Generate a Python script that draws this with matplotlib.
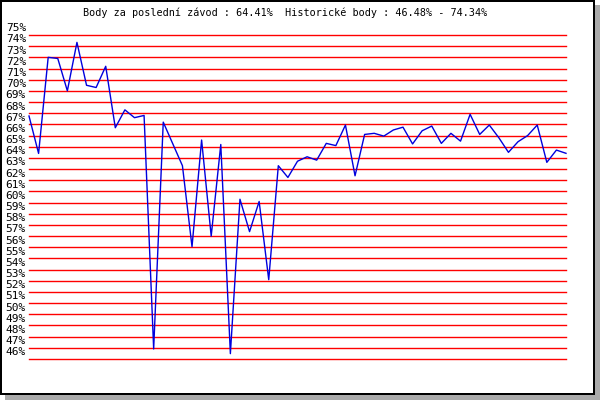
import matplotlib
matplotlib.use("Agg")
import matplotlib.pyplot as plt
from matplotlib.patches import Rectangle
import numpy as np

# Data (percent per race)
values = [67.75, 64.4, 73.0, 72.9, 70.0, 74.34, 70.5, 70.3, 72.2, 66.7,
          68.3, 67.6, 67.8, 46.9, 67.2, 65.25, 63.3, 56.05, 65.6, 57.0,
          65.2, 46.48, 60.3, 57.4, 60.1, 53.1, 63.3, 62.25, 63.7, 64.1,
          63.8, 65.3, 65.1, 66.94, 62.4, 66.1, 66.2, 65.95, 66.5, 66.75,
          65.25, 66.43, 66.85, 65.3, 66.2, 65.5, 67.9, 66.1, 66.94, 65.8,
          64.5, 65.45, 66.0, 66.94, 63.6, 64.7, 64.41]
y_levels = list(range(46, 76))
y_labels = [f"{v}%" for v in y_levels]
title = "Body za poslední závod : 64.41%  Historické body : 46.48% - 74.34%"

W, H = 600, 400
fig = plt.figure(figsize=(W / 100, H / 100), dpi=100)
fig.patch.set_facecolor("white")

def fx(px):
    return px / W

def fy(py):  # top-down pixel -> figure fraction
    return 1 - py / H

# shadow and frame
fig.patches.append(Rectangle((fx(5), fy(400)), fx(595), 395 / H, transform=fig.transFigure,
                             facecolor="#aaaaaa", edgecolor="none", zorder=-3))
fig.patches.append(Rectangle((fx(1), fy(394)), fx(593), 393 / H, transform=fig.transFigure,
                             facecolor="white", edgecolor="black", linewidth=1.44, zorder=-2))

# axes placement: x 29..566 px, y 35..359 px
left, right, top, bottom = 29, 566, 35, 359
ax = fig.add_axes([fx(left), fy(bottom), fx(right - left), (bottom - top) / H])
ax.set_facecolor("none")
ax.set_xlim(0, len(values) - 1)
ax.set_ylim(min(y_levels), max(y_levels))
for s in ax.spines.values():
    s.set_visible(False)
ax.set_xticks([])
ax.set_yticks([])

for v in y_levels:
    ax.axhline(v, color="#ff0000", linewidth=1.0, zorder=1, clip_on=False)

ax.plot(np.arange(len(values)), values, color="#0000dd", linewidth=1.0, zorder=3,
        clip_on=False)

ytr = ax.get_yaxis_transform()
for v, lab in zip(y_levels, y_labels):
    ax.text(-3 / (right - left), v + 0.15, lab, transform=ytr, ha="right", va="bottom",
            fontsize=8, family="DejaVu Sans Mono", color="black")

fig.text(fx(83), fy(13), title, ha="left", va="center", fontsize=7.3,
         family="DejaVu Sans Mono", color="black")

fig.savefig("out.png", dpi=100, facecolor="white")
